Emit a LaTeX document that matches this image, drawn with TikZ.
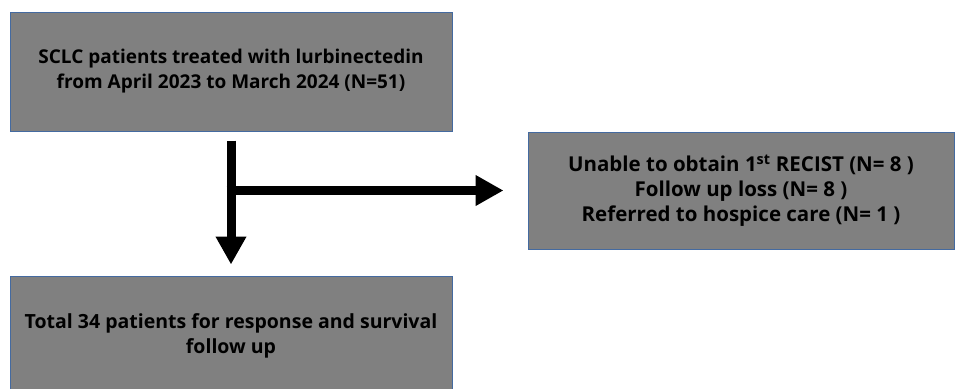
\documentclass[tikz,border=0pt]{standalone}
\usepackage{fontspec}
\setmainfont{Open Sans}
\usetikzlibrary{arrows.meta}

\definecolor{boxgray}{RGB}{128,128,128}
\definecolor{boxedge}{RGB}{68,106,160}

\tikzset{
  flowbox/.style={draw=boxedge, line width=1pt, fill=boxgray, inner sep=0pt,
    align=center, font=\bfseries\fontsize{19.5}{25}\selectfont},
  flowarrow/.style={line width=9pt, -{Triangle[width=29pt,length=28pt]}}
}

\begin{document}
\begin{tikzpicture}[x=1pt,y=-1pt]
  \useasboundingbox (0,0) rectangle (955,388);

  % Draw the three boxes
  \node[flowbox, minimum width=442pt, minimum height=119pt,
        font=\bfseries\fontsize{19}{25}\selectfont] (sclc) at (231,71.5)
    {SCLC patients treated with lurbinectedin\\from April 2023 to March 2024 (N=51)};

  \node[flowbox, minimum width=426pt, minimum height=117pt,
        font=\bfseries\fontsize{20.5}{25}\selectfont] (excl) at (741,190.5)
    {Unable to obtain 1\textsuperscript{st} RECIST (N= 8 )\\Follow up loss (N= 8 )\\Referred to hospice care (N= 1 )};

  \node[flowbox, minimum width=442pt, minimum height=119pt] (total) at (231,335.5)
    {Total 34 patients for response and survival\\follow up};

  % Draw the arrows between them
  \coordinate (split) at (sclc.south |- excl.west);
  \draw[flowarrow] ([yshift=-9pt]sclc.south) -- ([yshift=11pt]total.north);
  \draw[flowarrow] ([xshift=-4.5pt]split) -- ([xshift=-24pt]excl.west);
\end{tikzpicture}
\end{document}
